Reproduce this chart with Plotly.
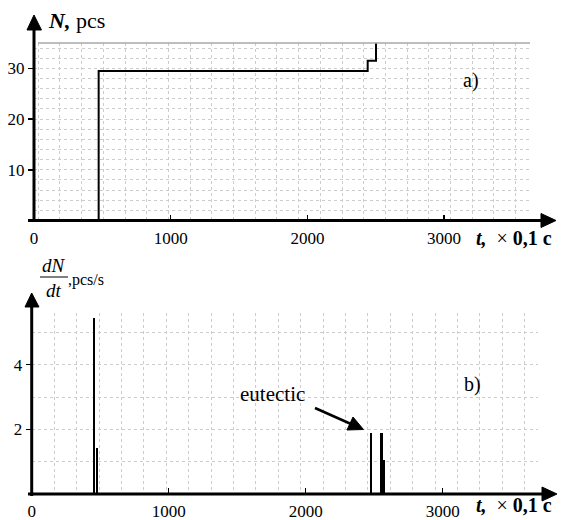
import plotly.graph_objects as go

W, H = 569, 520

# ---------------- data ----------------
# a) number of crystals N (pcs) vs time t (x0.1 s): step events
step_times = [473, 2441, 2502]
step_counts = [29.5, 31.5, 38]
top_xticks = [0, 1000, 2000, 3000]
top_yticks = [10, 20, 30]

# b) nucleation rate dN/dt (pcs/s)
rate_times = [456, 475, 2476, 2553, 2569]
rate_values = [5.45, 1.43, 1.88, 1.88, 1.05]
bot_xticks = [0, 1000, 2000, 3000]
bot_yticks = [2, 4]

SERIF = "Liberation Serif"


def px(x):
    return x / W


def py(y):
    return 1 - y / H


fig = go.Figure()

fig.add_trace(go.Scatter(
    x=[0] + step_times, y=[0] + step_counts, mode="lines",
    line=dict(color="black", width=2, shape="hv"),
    xaxis="x", yaxis="y", showlegend=False, hoverinfo="skip"))

fig.add_trace(go.Bar(
    x=rate_times, y=rate_values, width=17,
    marker=dict(color="black", line=dict(width=0)),
    xaxis="x2", yaxis="y2", showlegend=False, hoverinfo="skip"))

tickfont = dict(family=SERIF, size=17, color="black")
gridc = "#cccccc"

common = dict(showgrid=False, zeroline=False, showline=False, automargin=False,
              tickfont=tickfont, tickcolor="black", tickwidth=1.5)

fig.update_layout(
    template="none",
    width=W, height=H,
    margin=dict(l=0, r=0, t=0, b=0, pad=0),
    paper_bgcolor="white", plot_bgcolor="white",
    bargap=0,
    xaxis=dict(domain=[px(34), px(530)], range=[0, (530 - 34) / 0.1367], anchor="y",
               tickvals=top_xticks, ticktext=[str(v) for v in top_xticks],
               ticks="inside", ticklen=6, ticklabelstandoff=5,
               minor=dict(showgrid=True, tick0=190, dtick=158.7, gridcolor=gridc,
                          griddash="dot", gridwidth=1, ticks=""), **common),
    yaxis=dict(domain=[py(220.5), py(43)], range=[0, 35], anchor="x",
               tickvals=top_yticks, ticks="outside", ticklen=5,
               minor=dict(showgrid=True, tick0=0, dtick=2, gridcolor=gridc,
                          griddash="dot", gridwidth=1, ticks=""), **common),
    xaxis2=dict(domain=[px(31.7), px(538)], range=[0, (538 - 31.7) / 0.137], anchor="y2",
                tickvals=bot_xticks, ticktext=[str(v) for v in bot_xticks],
                ticks="inside", ticklen=6, ticklabelstandoff=5,
                minor=dict(showgrid=True, tick0=165, dtick=163.5, gridcolor=gridc,
                           griddash="dot", gridwidth=1, ticks=""), **common),
    yaxis2=dict(domain=[py(494), py(313)], range=[0, 5.6], anchor="x2",
                tickvals=bot_yticks, ticks="outside", ticklen=5,
                minor=dict(showgrid=True, tick0=0, dtick=1, gridcolor=gridc,
                           griddash="dot", gridwidth=1, ticks=""), **common),
)

shapes = []


def line(x0, y0, x1, y1, w=3, color="black"):
    shapes.append(dict(type="line", xref="paper", yref="paper",
                       x0=px(x0), y0=py(y0), x1=px(x1), y1=py(y1),
                       line=dict(color=color, width=w), layer="above"))


def tri(pts):
    d = "M " + " L ".join(f"{px(a):.5f} {py(b):.5f}" for a, b in pts) + " Z"
    shapes.append(dict(type="path", xref="paper", yref="paper", path=d,
                       fillcolor="black", line=dict(color="black", width=1),
                       layer="above"))


# top panel border at top
line(38, 43, 530, 43, w=1.5, color="#a8a8a8")
# top axes
line(34, 222, 34, 29)
tri([(34, 15), (27, 30), (41.5, 30)])
line(28, 220.5, 543, 220.5)
tri([(556, 220.5), (541, 213.5), (541, 227.5)])
# bottom axes
line(31.7, 496, 31.7, 305)
tri([(31.7, 293), (25, 307), (39, 307)])
line(28, 494, 543, 494)
tri([(557, 494), (542, 487), (542, 501)])
# eutectic arrow
line(315, 408, 351, 424, w=2.5)
tri([(363.5, 429.5), (347, 430), (353, 417)])
# fraction bar dN/dt
line(40, 277, 68, 277, w=1)

fig.update_layout(shapes=shapes)

ann = []


def text(x, y, s, size, xanchor="center", yanchor="middle"):
    ann.append(dict(x=px(x), y=py(y), xref="paper", yref="paper", text=s,
                    showarrow=False, xanchor=xanchor, yanchor=yanchor,
                    font=dict(family=SERIF, size=size, color="black")))


text(46, 21, "<b><i>N,</i></b> pcs", 22, xanchor="left")
text(474, 238, "<b><i>t,</i></b>  × <b>0,1 c</b>", 20, xanchor="left")
text(474, 505, "<b><i>t,</i></b>  × <b>0,1 c</b>", 20, xanchor="left")
text(471, 80, "a)", 20)
text(472, 384, "b)", 20)
text(272, 394, "eutectic", 21)
text(54, 265, "<i>dN</i>", 19)
text(54, 290, "<i>dt</i>", 19)
text(66, 280, ",pcs/s", 16, xanchor="left")

fig.update_layout(annotations=ann)

fig.write_html(
    "out.html",
    config={"displayModeBar": False, "staticPlot": True},
    post_script="document.body.style.margin='0';document.body.style.overflow='hidden';",
)
